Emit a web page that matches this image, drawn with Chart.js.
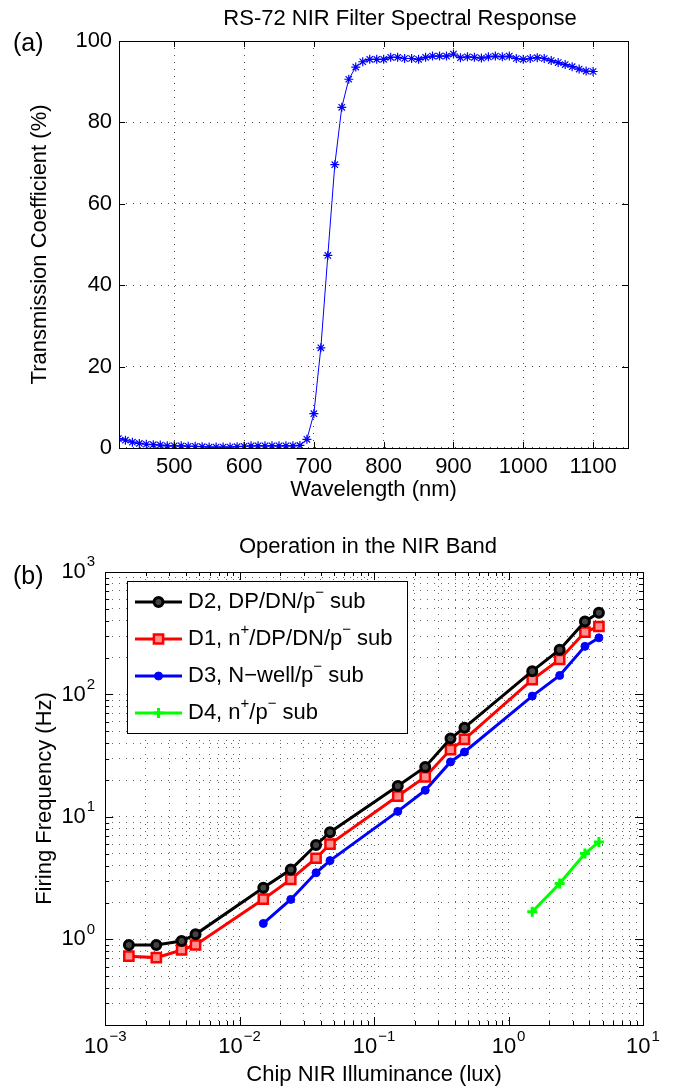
<!DOCTYPE html>
<html>
<head>
<meta charset="utf-8">
<script src="https://cdn.jsdelivr.net/npm/chart.js@4.4.1/dist/chart.umd.min.js"></script>
<style>
  body { margin: 0; background: #fff; }
  #wrap { position: relative; width: 680px; height: 1089px; }
  canvas { position: absolute; left: 0; }
  #chartA { top: 0; }
  #chartB { top: 505px; }
</style>
</head>
<body>
<div id="wrap">
  <canvas id="chartA" width="680" height="505"></canvas>
  <canvas id="chartB" width="680" height="584"></canvas>
</div>
<script>
/* panel (a) data */
const wavelength = [420, 430, 440, 450, 460, 470, 480, 490, 500, 510, 520, 530, 540, 550, 560, 570, 580, 590,
  600, 610, 620, 630, 640, 650, 660, 670, 680, 690, 700, 710, 720, 730, 740, 750, 760, 770, 780, 790,
  800, 810, 820, 830, 840, 850, 860, 870, 880, 890, 900, 910, 920, 930, 940, 950, 960, 970, 980, 990,
  1000, 1010, 1020, 1030, 1040, 1050, 1060, 1070, 1080, 1090, 1100];
const transmission = [2.3, 1.9, 1.4, 1.1, 0.9, 0.8, 0.7, 0.5, 0.5, 0.5, 0.4, 0.4, 0.3, 0.2, 0.2, 0.2, 0.2, 0.3,
  0.4, 0.5, 0.5, 0.5, 0.5, 0.5, 0.5, 0.5, 0.6, 2.1, 8.4, 24.6, 47.3, 69.6, 83.7, 90.6, 93.6, 94.9, 95.5, 95.5,
  95.5, 96.0, 96.0, 95.7, 95.7, 95.5, 96.0, 96.3, 96.3, 96.3, 96.8, 95.9, 96.1, 96.0, 95.8, 96.1, 96.3, 96.1, 96.3, 95.7,
  95.5, 95.7, 95.9, 95.7, 95.2, 94.7, 94.2, 93.7, 93.1, 92.6, 92.5];

/* panel (b) data */
const lux = [0.0015, 0.0024, 0.0037, 0.0047, 0.015, 0.024, 0.037, 0.047, 0.15, 0.24, 0.37, 0.47, 1.5, 2.4, 3.7, 4.7];
const freqD2 = [0.90, 0.90, 0.97, 1.10, 2.64, 3.72, 5.9, 7.5, 17.9, 25.6, 43.6, 53.6, 155, 232, 395, 465];
const freqD1 = [0.73, 0.71, 0.82, 0.90, 2.13, 3.09, 4.6, 6.0, 14.8, 21.2, 35.5, 43.0, 132, 193, 323, 359];
const luxD3 = [0.015, 0.024, 0.037, 0.047, 0.15, 0.24, 0.37, 0.47, 1.5, 2.4, 3.7, 4.7];
const freqD3 = [1.35, 2.12, 3.5, 4.4, 11.1, 16.5, 28.1, 33.9, 97, 143, 247, 290];
const luxD4 = [1.5, 2.4, 3.7, 4.7];
const freqD4 = [1.68, 2.86, 5.03, 6.25];

/* log axis labels (exponents of 10) */
const xPowers = [-3, -2, -1, 0, 1];
const yPowers = [0, 1, 2, 3];

const FONT = '"Liberation Sans", Arial, sans-serif';
Chart.defaults.font.family = FONT;
Chart.defaults.font.size = 22;
Chart.defaults.color = '#000';

function pts(xs, ys) {
  return xs.map(function (x, i) { return { x: x, y: ys[i] }; });
}

// grid positions for log axes: 1..9 in every decade
function logGrid(lo, hi) {
  const out = [];
  for (let e = Math.floor(Math.log10(lo)); e < Math.ceil(Math.log10(hi)); e++) {
    for (let m = 1; m < 10; m++) {
      const v = +(m * Math.pow(10, e)).toPrecision(3);
      if (v >= lo - 1e-12 && v <= hi) out.push(v);
    }
  }
  out.push(hi);
  return out;
}

function isPow10(v) {
  const l = Math.log10(v);
  return Math.abs(l - Math.round(l)) < 1e-9;
}

function expText(e) {
  return e < 0 ? '\u2212' + (-e) : String(e);
}

// "10" with raised exponent
function drawPow(ctx, e, x, y, align) {
  ctx.textBaseline = 'middle';
  ctx.textAlign = 'left';
  ctx.font = '22px ' + FONT;
  const wBase = ctx.measureText('10').width;
  ctx.font = '15px ' + FONT;
  const ex = expText(e);
  const wExp = ctx.measureText(ex).width;
  const total = wBase + wExp + 1;
  let sx = align === 'center' ? x - total / 2 : x - total;
  ctx.font = '22px ' + FONT;
  ctx.fillText('10', sx, y);
  ctx.font = '15px ' + FONT;
  ctx.fillText(ex, sx + wBase + 1, y - 10);
}

// text where ⁺ and ⁻ are drawn as raised small signs
const SUP = { '\u207A': '+', '\u207B': '\u2212' };
function drawRich(ctx, text, x, y) {
  ctx.textBaseline = 'middle';
  ctx.textAlign = 'left';
  let cx = x, run = '';
  function flush() {
    if (!run) return;
    ctx.font = '22px ' + FONT;
    ctx.fillText(run, cx, y);
    cx += ctx.measureText(run).width;
    run = '';
  }
  for (const ch of text) {
    if (SUP[ch]) {
      flush();
      ctx.font = '15px ' + FONT;
      ctx.fillText(SUP[ch], cx, y - 9);
      cx += ctx.measureText(SUP[ch]).width;
    } else {
      run += ch;
    }
  }
  flush();
}

function drawFrame(chart, majorLen, minorLen) {
  const ctx = chart.ctx;
  const a = chart.chartArea;
  ctx.save();
  ctx.strokeStyle = '#000';
  ctx.lineWidth = 1;
  ctx.setLineDash([]);
  ctx.beginPath();
  const sx = chart.scales.x, sy = chart.scales.y;
  sx.ticks.forEach(function (t) {
    const len = sx.type === 'logarithmic' && !isPow10(t.value) ? minorLen : majorLen;
    const px = Math.round(sx.getPixelForValue(t.value)) + 0.5;
    ctx.moveTo(px, a.bottom); ctx.lineTo(px, a.bottom - len);
    ctx.moveTo(px, a.top); ctx.lineTo(px, a.top + len);
  });
  sy.ticks.forEach(function (t) {
    const len = sy.type === 'logarithmic' && !isPow10(t.value) ? minorLen : majorLen;
    const py = Math.round(sy.getPixelForValue(t.value)) + 0.5;
    ctx.moveTo(a.left, py); ctx.lineTo(a.left + len, py);
    ctx.moveTo(a.right, py); ctx.lineTo(a.right - len, py);
  });
  ctx.stroke();
  ctx.strokeRect(Math.round(a.left) + 0.5, Math.round(a.top) + 0.5,
    Math.round(a.right - a.left), Math.round(a.bottom - a.top));
  ctx.restore();
}

const panelA = {
  id: 'panelA',
  afterDraw: function (chart) {
    drawFrame(chart, 6, 6);
    const ctx = chart.ctx;
    ctx.save();
    ctx.fillStyle = '#000';
    ctx.textBaseline = 'middle';
    ctx.textAlign = 'center';
    ctx.font = '22px ' + FONT;
    ctx.fillText('RS-72 NIR Filter Spectral Response', 400, 19);
    ctx.textAlign = 'left';
    ctx.font = '25px ' + FONT;
    ctx.fillText('(a)', 13, 44);
    ctx.restore();
  }
};

const panelB = {
  id: 'panelB',
  afterDraw: function (chart) {
    drawFrame(chart, 8, 4);
    const ctx = chart.ctx;
    const a = chart.chartArea;
    ctx.save();
    ctx.fillStyle = '#000';
    // tick labels
    xPowers.forEach(function (e) {
      drawPow(ctx, e, chart.scales.x.getPixelForValue(Math.pow(10, e)), a.bottom + 22, 'center');
    });
    yPowers.forEach(function (e) {
      drawPow(ctx, e, a.left - 10, chart.scales.y.getPixelForValue(Math.pow(10, e)), 'right');
    });
    // title and panel tag
    ctx.textBaseline = 'middle';
    ctx.textAlign = 'center';
    ctx.font = '22px ' + FONT;
    ctx.fillText('Operation in the NIR Band', 368, 42);
    ctx.textAlign = 'left';
    ctx.font = '25px ' + FONT;
    ctx.fillText('(b)', 13, 72);

    // legend box
    const bx = 127.5, by = 76.5, bw = 280, bh = 152;
    ctx.fillStyle = '#fff';
    ctx.fillRect(bx, by, bw, bh);
    ctx.strokeStyle = '#000';
    ctx.lineWidth = 1;
    ctx.strokeRect(bx, by, bw, bh);
    chart.data.datasets.forEach(function (ds, i) {
      const y = 97 + i * 37;
      ctx.strokeStyle = ds.borderColor;
      ctx.lineWidth = ds.borderWidth;
      ctx.beginPath();
      ctx.moveTo(135, y); ctx.lineTo(182, y);
      ctx.stroke();
      ctx.fillStyle = ds.pointBackgroundColor;
      ctx.strokeStyle = ds.pointBorderColor;
      ctx.lineWidth = ds.pointBorderWidth;
      Chart.helpers.drawPoint(ctx, {
        pointStyle: ds.pointStyle, radius: ds.pointRadius,
        borderWidth: ds.pointBorderWidth, rotation: 0
      }, 158.5, y);
      ctx.fillStyle = '#000';
      drawRich(ctx, ds.label, 188, y);
    });
    ctx.restore();
  }
};

new Chart(document.getElementById('chartA'), {
  type: 'line',
  data: {
    datasets: [{
      label: 'RS-72',
      data: pts(wavelength, transmission),
      borderColor: '#0000ff',
      backgroundColor: '#0000ff',
      borderWidth: 1,
      pointStyle: 'star',
      pointRadius: 4.5,
      pointBorderWidth: 1.2,
      tension: 0
    }]
  },
  options: {
    responsive: false,
    animation: false,
    layout: { padding: { left: 27, right: 52, top: 41, bottom: 0 } },
    plugins: { legend: { display: false }, tooltip: { enabled: false } },
    scales: {
      x: {
        type: 'linear', min: 421, max: 1150,
        ticks: {
          stepSize: 100, includeBounds: false, padding: 8, maxRotation: 0,
          font: { size: 22, lineHeight: 1 },
          callback: function (v) { return String(v); }
        },
        grid: { color: 'rgba(0,0,0,0.7)', drawTicks: false },
        border: { display: false, dash: [1, 6] },
        title: { display: true, text: 'Wavelength (nm)', font: { size: 22 }, padding: { top: -9, bottom: 1.7 } }
      },
      y: {
        min: 0, max: 100,
        ticks: { stepSize: 20, padding: 7, font: { size: 22 } },
        grid: { color: 'rgba(0,0,0,0.7)', drawTicks: false },
        border: { display: false, dash: [1, 6] },
        title: { display: true, text: 'Transmission Coefficient (%)', font: { size: 22 }, padding: { top: 0, bottom: 15 } }
      }
    }
  },
  plugins: [panelA]
});

new Chart(document.getElementById('chartB'), {
  type: 'line',
  data: {
    datasets: [{
      label: 'D2, DP/DN/p\u207B sub',
      data: pts(lux, freqD2),
      borderColor: '#000000', borderWidth: 3,
      pointStyle: 'circle', pointRadius: 4.5, pointBorderWidth: 3,
      pointBackgroundColor: '#444444', pointBorderColor: '#000000'
    }, {
      label: 'D1, n\u207A/DP/DN/p\u207B sub',
      data: pts(lux, freqD1),
      borderColor: '#ff0000', borderWidth: 3,
      pointStyle: 'rect', pointRadius: 6.5, pointBorderWidth: 2.5,
      pointBackgroundColor: '#ff9090', pointBorderColor: '#ff0000'
    }, {
      label: 'D3, N\u2212well/p\u207B sub',
      data: pts(luxD3, freqD3),
      borderColor: '#0000ff', borderWidth: 3,
      pointStyle: 'circle', pointRadius: 4, pointBorderWidth: 1,
      pointBackgroundColor: '#0000ff', pointBorderColor: '#0000ff'
    }, {
      label: 'D4, n\u207A/p\u207B sub',
      data: pts(luxD4, freqD4),
      borderColor: '#00ff00', borderWidth: 3,
      pointStyle: 'cross', pointRadius: 5, pointBorderWidth: 3,
      pointBackgroundColor: '#00ff00', pointBorderColor: '#00ff00'
    }]
  },
  options: {
    responsive: false,
    animation: false,
    layout: { padding: { left: 32, right: 37, top: 67, bottom: 0 } },
    plugins: { legend: { display: false }, tooltip: { enabled: false } },
    scales: {
      x: {
        type: 'logarithmic', min: 0.001, max: 10,
        afterBuildTicks: function (s) { s.ticks = logGrid(0.001, 10).map(function (v) { return { value: v }; }); },
        ticks: { display: false, autoSkip: false },
        grid: { color: 'rgba(0,0,0,0.6)', drawTicks: false },
        border: { display: false, dash: [1, 6] },
        title: { display: true, text: 'Chip NIR Illuminance (lux)', font: { size: 22 }, padding: { top: 36.8, bottom: 0.8 } }
      },
      y: {
        type: 'logarithmic', min: 0.2, max: 1000,
        afterBuildTicks: function (s) { s.ticks = logGrid(0.2, 1000).map(function (v) { return { value: v }; }); },
        ticks: { display: false, autoSkip: false },
        grid: { color: 'rgba(0,0,0,0.6)', drawTicks: false },
        border: { display: false, dash: [1, 6] },
        title: { display: true, text: 'Firing Frequency (Hz)', font: { size: 22 }, padding: { top: 0, bottom: 46.8 } }
      }
    }
  },
  plugins: [panelB]
});
</script>
</body>
</html>
